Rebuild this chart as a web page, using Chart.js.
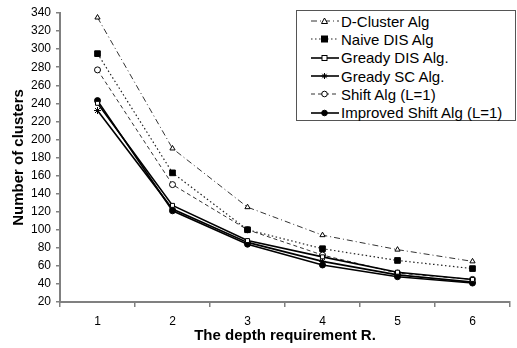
<!DOCTYPE html>
<html><head><meta charset="utf-8">
<script src="https://cdn.jsdelivr.net/npm/chart.js@4/dist/chart.umd.min.js"></script>
<style>
html,body{margin:0;padding:0;background:#fff;}
#wrap{position:relative;width:517px;height:348px;}
#legend{position:absolute;left:296px;top:10px;width:220px;height:111px;border:1px solid #555;background:#fff;box-sizing:border-box;font-family:"Liberation Sans",Arial,sans-serif;font-size:15px;color:#000;padding-top:1px;}
.row{display:flex;align-items:center;height:18.3px;white-space:nowrap;}
.row svg{margin-left:14px;margin-right:2px;}
</style></head>
<body><div id="wrap"><canvas id="c" width="517" height="348"></canvas><div id="legend"></div></div>
<script>
const categories = ["1","2","3","4","5","6"];
const seriesNames = ["D-Cluster Alg","Naive DIS Alg","Gready DIS Alg.","Gready SC Alg.","Shift Alg (L=1)","Improved Shift Alg (L=1)"];
const dCluster = [335, 190, 125, 94, 78, 65];
const naiveDIS = [295, 163, 100, 79, 66, 57];
const greadyDIS = [240, 127, 88, 70, 53, 45];
const greadySC = [232, 123, 86, 65, 50, 42];
const shiftAlg = [277, 150, 100, 72, 52, 45];
const improvedShift = [243, 121, 84, 61, 48, 41];
const yTicks = {min: 20, max: 340, step: 20};
const xTitle = "The depth requirement R.";
const yTitle = "Number of clusters";

const styles = [
  {dash:[6,3,1,3], point:'triangle', r:3, fill:'#fff', color:'#333', w:1},
  {dash:[1.5,2.5], point:'rect', r:4, fill:'#000', color:'#222', w:1.2},
  {dash:[], point:'rect', r:2.8, fill:'#fff', color:'#000', w:1.6},
  {dash:[], point:'star', r:3.5, fill:'#000', color:'#000', w:1.6},
  {dash:[4,3], point:'circle', r:3, fill:'#fff', color:'#333', w:1},
  {dash:[], point:'circle', r:3, fill:'#000', color:'#000', w:1.6}
];
const values = [dCluster, naiveDIS, greadyDIS, greadySC, shiftAlg, improvedShift];

const datasets = values.map((v,i)=>({
  label: seriesNames[i], data: v,
  borderColor: styles[i].color, borderWidth: styles[i].w, borderDash: styles[i].dash,
  pointStyle: styles[i].point, pointRadius: styles[i].r, pointBackgroundColor: styles[i].fill,
  pointBorderColor: '#000', pointBorderWidth: 1, tension: 0, fill:false
}));

const font = "'Liberation Sans', Arial, sans-serif";
new Chart(document.getElementById('c'), {
  type: 'line',
  data: {labels: categories, datasets},
  options: {
    responsive: false, animation: false, devicePixelRatio: 1,
    layout: {padding: {top: 13, right: 7, left: 0, bottom: 0}},
    plugins: {legend: {display: false}, tooltip: {enabled: false}},
    scales: {
      x: {
        offset: true,
        grid: {offset: true, drawOnChartArea: false, drawTicks: true, tickLength: 5, color: '#808080', lineWidth: 1.5},
        border: {color: '#808080', width: 2},
        ticks: {color: '#000', font: {family: font, size: 12}, padding: 7},
        title: {display: true, text: xTitle, color: '#000', font: {family: font, size: 15, weight: 'bold'}, padding: {top: 2, bottom: 3}},
        afterFit(s){ s.height = 46; }
      },
      y: {
        min: yTicks.min, max: yTicks.max,
        grid: {drawOnChartArea: false, drawTicks: true, tickLength: 4, color: '#808080', lineWidth: 1.5},
        border: {color: '#808080', width: 2},
        ticks: {stepSize: yTicks.step, color: '#000', font: {family: font, size: 12}, padding: 5},
        title: {display: true, text: yTitle, color: '#000', font: {family: font, size: 15, weight: 'bold'}, padding: {top: 10, bottom: 0}},
        afterFit(s){ s.width = 60; }
      }
    }
  }
});

const leg = document.getElementById('legend');
function marker(st){
  const cx=13.5, cy=6;
  if(st.point==='triangle') return `<polygon points="${cx},${cy-3} ${cx+3},${cy+2.5} ${cx-3},${cy+2.5}" fill="${st.fill}" stroke="#000" stroke-width="1"/>`;
  if(st.point==='rect'){ const h = st.fill==='#000'?3:2.5; return `<rect x="${cx-h}" y="${cy-h}" width="${2*h}" height="${2*h}" fill="${st.fill}" stroke="#000" stroke-width="1"/>`; }
  if(st.point==='star') return `<path d="M${cx-3},${cy} L${cx+3},${cy} M${cx},${cy-3} L${cx},${cy+3} M${cx-2.2},${cy-2.2} L${cx+2.2},${cy+2.2} M${cx-2.2},${cy+2.2} L${cx+2.2},${cy-2.2}" stroke="#000" stroke-width="1"/>`;
  return `<circle cx="${cx}" cy="${cy}" r="2.8" fill="${st.fill}" stroke="#000" stroke-width="1"/>`;
}
seriesNames.forEach((n,i)=>{
  const st = styles[i];
  const row = document.createElement('div'); row.className='row';
  row.innerHTML = `<svg width="28" height="12"><line x1="0" y1="6" x2="28" y2="6" stroke="${st.color}" stroke-width="${st.w}" stroke-dasharray="${st.dash.join(',')}"/>${marker(st)}</svg><span>${n}</span>`;
  leg.appendChild(row);
});
</script></body></html>
